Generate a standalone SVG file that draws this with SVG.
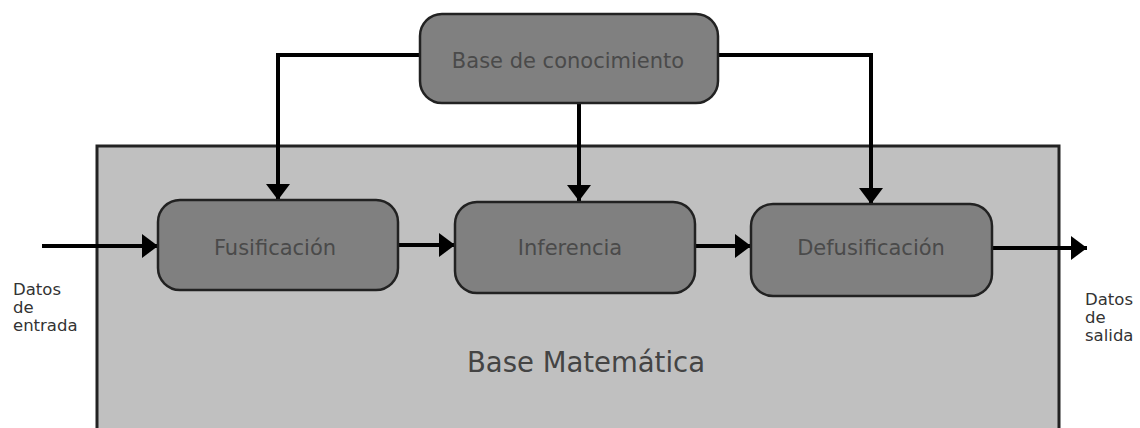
<svg xmlns="http://www.w3.org/2000/svg" width="1140" height="428" viewBox="0 0 1140 428">
<defs>
<marker id="ah" markerUnits="userSpaceOnUse" markerWidth="16" markerHeight="24" refX="16" refY="12" orient="auto">
<path d="M0,0 L16,12 L0,24 z" fill="#000"/>
</marker>
<style>
.node rect{fill:#808080;stroke:#222;stroke-width:2.5}
.lbl{font-family:"DejaVu Sans","Verdana",sans-serif;font-size:21px;fill:#4a4a4a;text-anchor:middle}
.side{font-family:"DejaVu Sans","Verdana",sans-serif;font-size:16.5px;fill:#333}
.conn{fill:none;stroke:#000;stroke-width:4;marker-end:url(#ah)}
</style>
</defs>
<rect width="1140" height="428" fill="#fff"/>
<g id="base-matematica">
<rect x="97" y="146" width="962" height="300" fill="#c0c0c0" stroke="#222" stroke-width="3"/>
<text x="586" y="372" style="font-family:'DejaVu Sans','Verdana',sans-serif;font-size:27.5px;fill:#444;text-anchor:middle">Base Matemática</text>
</g>
<g id="connectors">
<path class="conn" d="M421,55 H278 V200"/>
<path class="conn" d="M579,103 V201"/>
<path class="conn" d="M717,55 H871 V204"/>
<path class="conn" d="M42,246 H158"/>
<path class="conn" d="M398,245 H455"/>
<path class="conn" d="M695,246 H751"/>
<path class="conn" d="M992,248 H1087"/>
</g>
<g id="base-conocimiento" class="node">
<rect x="420" y="14" width="298" height="89" rx="22"/>
<text class="lbl" x="568" y="68">Base de conocimiento</text>
</g>
<g id="fusificacion" class="node">
<rect x="158" y="200" width="240" height="90" rx="22"/>
<text class="lbl" x="275" y="255">Fusificación</text>
</g>
<g id="inferencia" class="node">
<rect x="455" y="202" width="240" height="91" rx="22"/>
<text class="lbl" x="570" y="255">Inferencia</text>
</g>
<g id="defusificacion" class="node">
<rect x="751" y="204" width="241" height="92" rx="22"/>
<text class="lbl" x="871" y="255">Defusificación</text>
</g>
<g id="datos-entrada">
<text class="side" x="13" y="295">Datos</text>
<text class="side" x="13" y="313">de</text>
<text class="side" x="13" y="331">entrada</text>
</g>
<g id="datos-salida">
<text class="side" x="1085" y="305">Datos</text>
<text class="side" x="1085" y="323">de</text>
<text class="side" x="1085" y="341">salida</text>
</g>
</svg>
